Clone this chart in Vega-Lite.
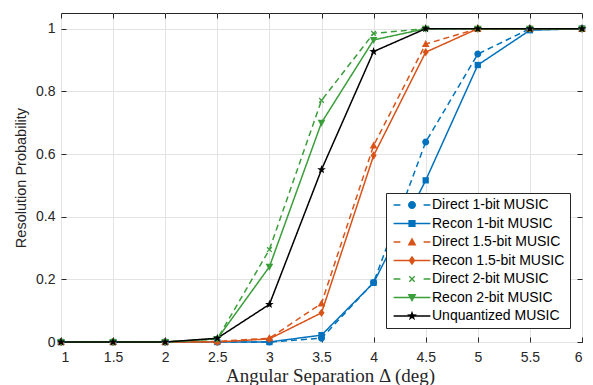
{
  "$schema": "https://vega.github.io/schema/vega-lite/v6.json",
  "width": 521,
  "height": 329,
  "autosize": "none",
  "padding": {"left": 61, "top": 13, "right": 11, "bottom": 43},
  "background": "white",
  "config": {"view": {"stroke": "#262626", "strokeWidth": 1}, "font": "Liberation Sans"},
  "data": {"values": [
    {"series": "Direct 1-bit MUSIC", "delta": 1, "prob": 0},
    {"series": "Direct 1-bit MUSIC", "delta": 1.5, "prob": 0},
    {"series": "Direct 1-bit MUSIC", "delta": 2, "prob": 0},
    {"series": "Direct 1-bit MUSIC", "delta": 2.5, "prob": 0},
    {"series": "Direct 1-bit MUSIC", "delta": 3, "prob": 0},
    {"series": "Direct 1-bit MUSIC", "delta": 3.5, "prob": 0.012},
    {"series": "Direct 1-bit MUSIC", "delta": 4, "prob": 0.19},
    {"series": "Direct 1-bit MUSIC", "delta": 4.5, "prob": 0.638},
    {"series": "Direct 1-bit MUSIC", "delta": 5, "prob": 0.919},
    {"series": "Direct 1-bit MUSIC", "delta": 5.5, "prob": 1},
    {"series": "Direct 1-bit MUSIC", "delta": 6, "prob": 1},
    {"series": "Recon 1-bit MUSIC", "delta": 1, "prob": 0},
    {"series": "Recon 1-bit MUSIC", "delta": 1.5, "prob": 0},
    {"series": "Recon 1-bit MUSIC", "delta": 2, "prob": 0},
    {"series": "Recon 1-bit MUSIC", "delta": 2.5, "prob": 0},
    {"series": "Recon 1-bit MUSIC", "delta": 3, "prob": 0},
    {"series": "Recon 1-bit MUSIC", "delta": 3.5, "prob": 0.022},
    {"series": "Recon 1-bit MUSIC", "delta": 4, "prob": 0.189},
    {"series": "Recon 1-bit MUSIC", "delta": 4.5, "prob": 0.516},
    {"series": "Recon 1-bit MUSIC", "delta": 5, "prob": 0.884},
    {"series": "Recon 1-bit MUSIC", "delta": 5.5, "prob": 0.995},
    {"series": "Recon 1-bit MUSIC", "delta": 6, "prob": 1},
    {"series": "Direct 1.5-bit MUSIC", "delta": 1, "prob": 0},
    {"series": "Direct 1.5-bit MUSIC", "delta": 1.5, "prob": 0},
    {"series": "Direct 1.5-bit MUSIC", "delta": 2, "prob": 0},
    {"series": "Direct 1.5-bit MUSIC", "delta": 2.5, "prob": 0.002},
    {"series": "Direct 1.5-bit MUSIC", "delta": 3, "prob": 0.012},
    {"series": "Direct 1.5-bit MUSIC", "delta": 3.5, "prob": 0.123},
    {"series": "Direct 1.5-bit MUSIC", "delta": 4, "prob": 0.627},
    {"series": "Direct 1.5-bit MUSIC", "delta": 4.5, "prob": 0.951},
    {"series": "Direct 1.5-bit MUSIC", "delta": 5, "prob": 1},
    {"series": "Direct 1.5-bit MUSIC", "delta": 5.5, "prob": 1},
    {"series": "Direct 1.5-bit MUSIC", "delta": 6, "prob": 1},
    {"series": "Recon 1.5-bit MUSIC", "delta": 1, "prob": 0},
    {"series": "Recon 1.5-bit MUSIC", "delta": 1.5, "prob": 0},
    {"series": "Recon 1.5-bit MUSIC", "delta": 2, "prob": 0},
    {"series": "Recon 1.5-bit MUSIC", "delta": 2.5, "prob": 0},
    {"series": "Recon 1.5-bit MUSIC", "delta": 3, "prob": 0.01},
    {"series": "Recon 1.5-bit MUSIC", "delta": 3.5, "prob": 0.093},
    {"series": "Recon 1.5-bit MUSIC", "delta": 4, "prob": 0.595},
    {"series": "Recon 1.5-bit MUSIC", "delta": 4.5, "prob": 0.925},
    {"series": "Recon 1.5-bit MUSIC", "delta": 5, "prob": 1},
    {"series": "Recon 1.5-bit MUSIC", "delta": 5.5, "prob": 1},
    {"series": "Recon 1.5-bit MUSIC", "delta": 6, "prob": 1},
    {"series": "Direct 2-bit MUSIC", "delta": 1, "prob": 0},
    {"series": "Direct 2-bit MUSIC", "delta": 1.5, "prob": 0},
    {"series": "Direct 2-bit MUSIC", "delta": 2, "prob": 0},
    {"series": "Direct 2-bit MUSIC", "delta": 2.5, "prob": 0.01},
    {"series": "Direct 2-bit MUSIC", "delta": 3, "prob": 0.295},
    {"series": "Direct 2-bit MUSIC", "delta": 3.5, "prob": 0.771},
    {"series": "Direct 2-bit MUSIC", "delta": 4, "prob": 0.985},
    {"series": "Direct 2-bit MUSIC", "delta": 4.5, "prob": 1},
    {"series": "Direct 2-bit MUSIC", "delta": 5, "prob": 1},
    {"series": "Direct 2-bit MUSIC", "delta": 5.5, "prob": 1},
    {"series": "Direct 2-bit MUSIC", "delta": 6, "prob": 1},
    {"series": "Recon 2-bit MUSIC", "delta": 1, "prob": 0},
    {"series": "Recon 2-bit MUSIC", "delta": 1.5, "prob": 0},
    {"series": "Recon 2-bit MUSIC", "delta": 2, "prob": 0},
    {"series": "Recon 2-bit MUSIC", "delta": 2.5, "prob": 0.01},
    {"series": "Recon 2-bit MUSIC", "delta": 3, "prob": 0.24},
    {"series": "Recon 2-bit MUSIC", "delta": 3.5, "prob": 0.7},
    {"series": "Recon 2-bit MUSIC", "delta": 4, "prob": 0.964},
    {"series": "Recon 2-bit MUSIC", "delta": 4.5, "prob": 1},
    {"series": "Recon 2-bit MUSIC", "delta": 5, "prob": 1},
    {"series": "Recon 2-bit MUSIC", "delta": 5.5, "prob": 1},
    {"series": "Recon 2-bit MUSIC", "delta": 6, "prob": 1},
    {"series": "Unquantized MUSIC", "delta": 1, "prob": 0},
    {"series": "Unquantized MUSIC", "delta": 1.5, "prob": 0},
    {"series": "Unquantized MUSIC", "delta": 2, "prob": 0},
    {"series": "Unquantized MUSIC", "delta": 2.5, "prob": 0.012},
    {"series": "Unquantized MUSIC", "delta": 3, "prob": 0.12},
    {"series": "Unquantized MUSIC", "delta": 3.5, "prob": 0.55},
    {"series": "Unquantized MUSIC", "delta": 4, "prob": 0.927},
    {"series": "Unquantized MUSIC", "delta": 4.5, "prob": 1},
    {"series": "Unquantized MUSIC", "delta": 5, "prob": 1},
    {"series": "Unquantized MUSIC", "delta": 5.5, "prob": 1},
    {"series": "Unquantized MUSIC", "delta": 6, "prob": 1}
  ]},
  "layer": [
    {
      "mark": {"type": "line", "strokeWidth": 1.5},
      "encoding": {
        "x": {"field": "delta", "type": "quantitative", "scale": {"domain": [1, 6], "nice": false, "zero": false},
          "axis": {"orient": "bottom", "values": [1, 1.5, 2, 2.5, 3, 3.5, 4, 4.5, 5, 5.5, 6], "format": "~g", "grid": true, "gridColor": "#e3e3e3", "gridWidth": 1, "domain": false, "ticks": true, "tickSize": -5, "tickColor": "#262626", "labelFont": "Liberation Sans", "labelFontSize": 14, "labelColor": "#262626", "labelPadding": 13.5, "title": "Angular Separation Δ (deg)", "titleFont": "Liberation Serif", "titleFontSize": 19, "titleFontWeight": "normal", "titleColor": "#262626", "titlePadding": 2, "titleX": 269, "titleAlign": "center"}},
        "y": {"field": "prob", "type": "quantitative", "scale": {"domain": [0, 1.05], "nice": false},
          "axis": {"orient": "left", "values": [0, 0.2, 0.4, 0.6, 0.8, 1], "format": "~g", "grid": true, "gridColor": "#e3e3e3", "gridWidth": 1, "domain": false, "ticks": true, "tickSize": -5, "tickColor": "#262626", "labelFont": "Liberation Sans", "labelFontSize": 14, "labelColor": "#262626", "labelPadding": 11, "title": "Resolution Probability", "titleFont": "Liberation Sans", "titleFontSize": 14.5, "titleFontWeight": "normal", "titleColor": "#262626", "titlePadding": 7}},
        "color": {"field": "series", "type": "nominal",
          "scale": {"domain": ["Direct 1-bit MUSIC", "Recon 1-bit MUSIC", "Direct 1.5-bit MUSIC", "Recon 1.5-bit MUSIC", "Direct 2-bit MUSIC", "Recon 2-bit MUSIC", "Unquantized MUSIC"],
            "range": ["#0072BD", "#0072BD", "#D95319", "#D95319", "#3a9e3a", "#3a9e3a", "#000000"]}, "legend": null},
        "strokeDash": {"field": "series", "type": "nominal",
          "scale": {"domain": ["Direct 1-bit MUSIC", "Recon 1-bit MUSIC", "Direct 1.5-bit MUSIC", "Recon 1.5-bit MUSIC", "Direct 2-bit MUSIC", "Recon 2-bit MUSIC", "Unquantized MUSIC"],
            "range": [[6, 4], [1, 0], [6, 4], [1, 0], [6, 4], [1, 0], [1, 0]]}, "legend": null}
      }
    },
    {
      "mark": {"type": "point", "filled": true, "opacity": 1, "size": 49},
      "encoding": {
        "x": {"field": "delta", "type": "quantitative",
          "axis": {"orient": "top", "values": [1, 1.5, 2, 2.5, 3, 3.5, 4, 4.5, 5, 5.5, 6], "labels": false, "grid": false, "domain": false, "ticks": true, "tickSize": -5, "tickColor": "#262626", "title": null}},
        "y": {"field": "prob", "type": "quantitative",
          "axis": {"orient": "right", "values": [0, 0.2, 0.4, 0.6, 0.8, 1], "labels": false, "grid": false, "domain": false, "ticks": true, "tickSize": -5, "tickColor": "#262626", "title": null}},
        "color": {"field": "series", "type": "nominal", "legend": null},
        "shape": {"field": "series", "type": "nominal",
          "scale": {"domain": ["Direct 1-bit MUSIC", "Recon 1-bit MUSIC", "Direct 1.5-bit MUSIC", "Recon 1.5-bit MUSIC", "Direct 2-bit MUSIC", "Recon 2-bit MUSIC", "Unquantized MUSIC"],
            "range": [
              "M-1,0A1,1 0 1,1 1,0A1,1 0 1,1 -1,0Z",
              "M-0.9,-0.9H0.9V0.9H-0.9Z",
              "M0,-1.15L1.1,0.85L-1.1,0.85Z",
              "M0,-1.2L0.85,0L0,1.2L-0.85,0Z",
              "M-0.8,-0.55L-0.55,-0.8L0.8,0.55L0.55,0.8Z M0.55,-0.8L0.8,-0.55L-0.55,0.8L-0.8,0.55Z",
              "M-1.1,-0.85L1.1,-0.85L0,1.15Z",
              "M0,-1.3L0.306,-0.421L1.236,-0.402L0.495,0.161L0.764,1.052L0,0.52L-0.764,1.052L-0.495,0.161L-1.236,-0.402L-0.306,-0.421Z"
            ]}, "legend": null}
      }
    },
    {
      "mark": {"type": "point", "filled": true, "opacity": 0, "size": 64},
      "encoding": {
        "x": {"field": "delta", "type": "quantitative", "axis": null},
        "y": {"field": "prob", "type": "quantitative", "axis": null},
        "color": {"field": "series", "type": "nominal",
          "legend": {"orient": "none", "legendX": 325, "legendY": 180, "title": null, "padding": 5, "fillColor": "white", "strokeColor": "#262626", "labelFont": "Liberation Sans", "labelFontSize": 14, "labelColor": "#000000", "symbolSize": 64, "symbolStrokeWidth": 0, "symbolOpacity": 1, "symbolOffset": 14, "labelOffset": 13, "rowPadding": 4.5, "labelLimit": 300}},
        "shape": {"field": "series", "type": "nominal",
          "scale": {"domain": ["Direct 1-bit MUSIC", "Recon 1-bit MUSIC", "Direct 1.5-bit MUSIC", "Recon 1.5-bit MUSIC", "Direct 2-bit MUSIC", "Recon 2-bit MUSIC", "Unquantized MUSIC"],
            "range": [
              "M-4.6,-0.2H-2.9V0.2H-4.6Z M2.9,-0.2H4.6V0.2H2.9Z M-1,0A1,1 0 1,1 1,0A1,1 0 1,1 -1,0Z",
              "M-4.6,-0.2H4.6V0.2H-4.6Z M-0.9,-0.9H0.9V0.9H-0.9Z",
              "M-4.6,-0.2H-2.9V0.2H-4.6Z M2.9,-0.2H4.6V0.2H2.9Z M0,-1.15L1.1,0.85L-1.1,0.85Z",
              "M-4.6,-0.2H4.6V0.2H-4.6Z M0,-1.2L0.85,0L0,1.2L-0.85,0Z",
              "M-4.6,-0.2H-2.9V0.2H-4.6Z M2.9,-0.2H4.6V0.2H2.9Z M-0.8,-0.55L-0.55,-0.8L0.8,0.55L0.55,0.8Z M0.55,-0.8L0.8,-0.55L-0.55,0.8L-0.8,0.55Z",
              "M-4.6,-0.2H4.6V0.2H-4.6Z M-1.1,-0.85L1.1,-0.85L0,1.15Z",
              "M-4.6,-0.2H4.6V0.2H-4.6Z M0,-1.3L0.306,-0.421L1.236,-0.402L0.495,0.161L0.764,1.052L0,0.52L-0.764,1.052L-0.495,0.161L-1.236,-0.402L-0.306,-0.421Z"
            ]},
          "legend": {"orient": "none", "legendX": 325, "legendY": 180, "title": null, "padding": 5, "fillColor": "white", "strokeColor": "#262626", "labelFont": "Liberation Sans", "labelFontSize": 14, "labelColor": "#000000", "symbolSize": 64, "symbolStrokeWidth": 0, "symbolOpacity": 1, "symbolOffset": 14, "labelOffset": 13, "rowPadding": 4.5, "labelLimit": 300}}
      }
    }
  ],
  "resolve": {"scale": {"shape": "independent"}, "legend": {"color": "independent", "shape": "independent"}}
}
